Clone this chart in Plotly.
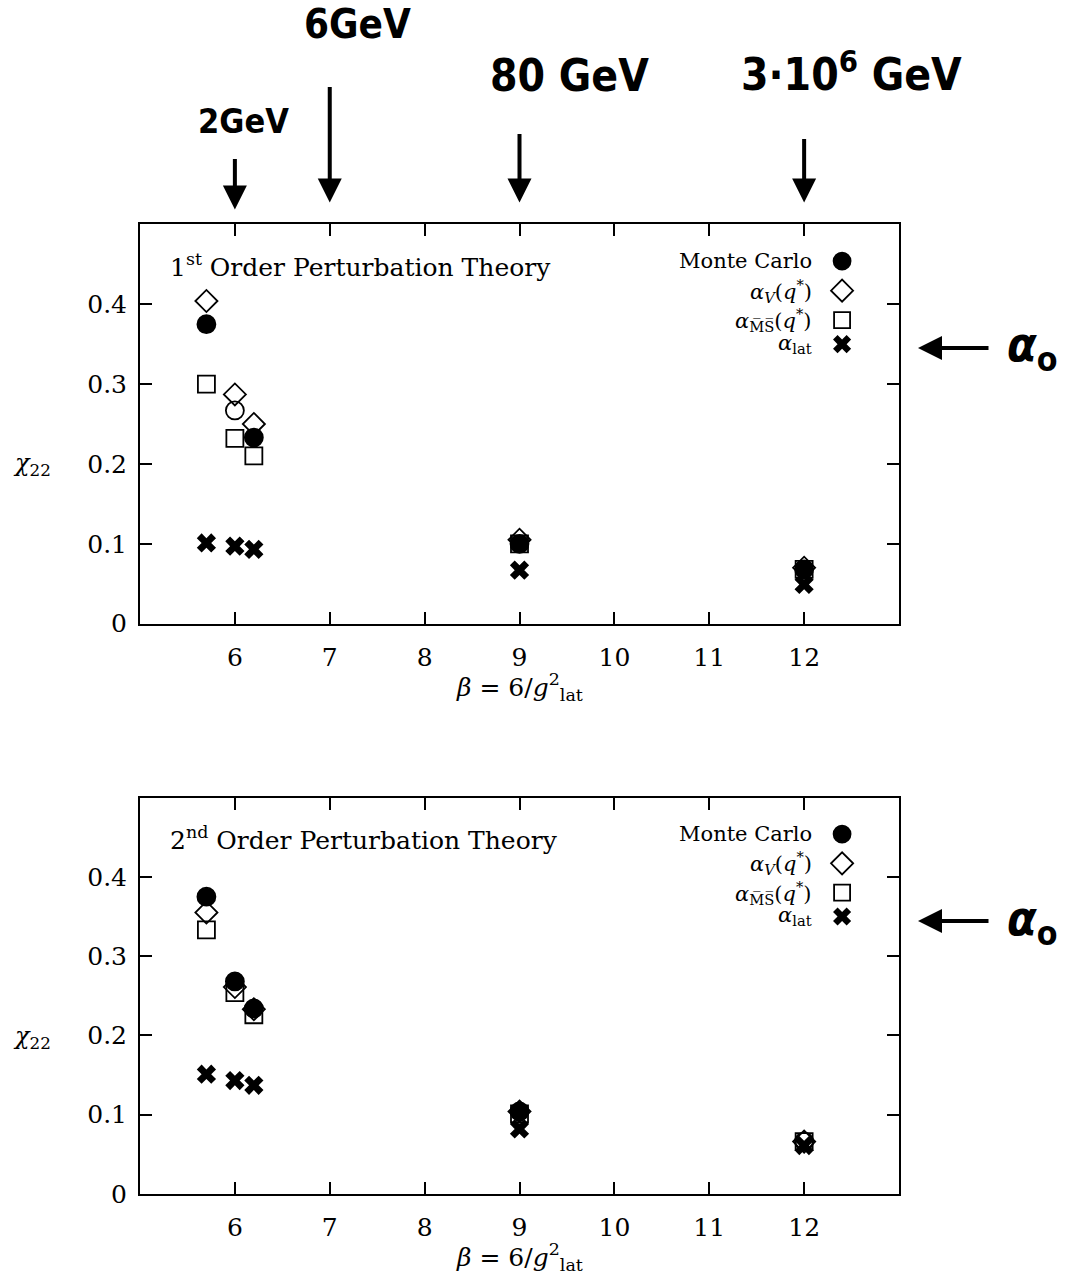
import plotly.graph_objects as go

# Lattice coupling values beta = 6/g_lat^2
beta = [5.7, 6.0, 6.2, 9.0, 12.0]

# First order perturbation theory
mc_1 = [0.375, 0.267, 0.233, 0.100, 0.068]
av_1 = [0.404, 0.287, 0.250, 0.105, 0.070]
ams_1 = [0.300, 0.232, 0.210, 0.100, 0.068]
alat_1 = [0.101, 0.097, 0.093, 0.067, 0.049]
mc_symbols_1 = ["circle", "circle-open", "circle", "circle", "circle"]

# Second order perturbation theory
mc_2 = [0.375, 0.268, 0.234, 0.104, 0.066]
av_2 = [0.355, 0.261, 0.233, 0.104, 0.066]
ams_2 = [0.333, 0.254, 0.226, 0.101, 0.066]
alat_2 = [0.151, 0.143, 0.137, 0.082, 0.061]
mc_symbols_2 = ["circle", "circle", "circle", "circle", "circle-open"]

series_labels = [
    "Monte Carlo",
    "<i>α</i><sub><i>V</i></sub>(<i>q</i><sup>*</sup>)",
    "<i>α</i><sub>M\u0305S\u0305</sub>(<i>q</i><sup>*</sup>)",
    "<i>α</i><sub>lat</sub>",
]
legend_rows = [0.454, 0.417, 0.380, 0.350]
legend_marker_x = 12.4
legend_text_x = 12.1

panel_titles = [
    "1<sup>st</sup> Order Perturbation Theory",
    "2<sup>nd</sup> Order Perturbation Theory",
]

# Energy scales marked above the upper panel
scale_beta = [6.0, 7.0, 9.0, 12.0]
scale_labels = ["2GeV", "6GeV", "80 GeV", "3·10<sup>6</sup> GeV"]

x_ticks = [6, 7, 8, 9, 10, 11, 12]
y_ticks = [0, 0.1, 0.2, 0.3, 0.4]
y_tick_text = ["0", "0.1", "0.2", "0.3", "0.4"]

W, H = 1071, 1285
SERIF = "DejaVu Serif"
HAND = "DejaVu Sans Condensed, Liberation Sans Narrow, DejaVu Sans"
BLACK = "black"

fig = go.Figure()


def add_panel(xa, ya, mc, mc_sym, av, ams, alat):
    common = dict(mode="markers", xaxis=xa, yaxis=ya, showlegend=False, hoverinfo="skip", opacity=1)
    fig.add_trace(go.Scatter(x=beta, y=av, marker=dict(symbol="diamond-open", size=17, color=BLACK, opacity=1,
                                                       line=dict(width=1.8, color=BLACK)), **common))
    fig.add_trace(go.Scatter(x=beta, y=ams, marker=dict(symbol="square-open", size=17, color=BLACK, opacity=1,
                                                        line=dict(width=1.8, color=BLACK)), **common))
    fig.add_trace(go.Scatter(x=beta, y=mc, marker=dict(symbol=mc_sym, size=18, color=BLACK, opacity=1,
                                                       line=dict(width=1.8, color=BLACK)), **common))
    fig.add_trace(go.Scatter(x=beta, y=alat, marker=dict(symbol="x", size=17, color=BLACK, opacity=1,
                                                         line=dict(width=0)), **common))
    # legend keys
    for sym, size, yy in zip(["circle", "diamond-open", "square-open", "x"], [17, 17, 16, 16], legend_rows):
        fig.add_trace(go.Scatter(
            x=[legend_marker_x], y=[yy],
            marker=dict(symbol=sym, size=size, color=BLACK, opacity=1,
                        line=dict(width=1.8 if sym != "x" else 0, color=BLACK)),
            **common))


add_panel("x", "y", mc_1, mc_symbols_1, av_1, ams_1, alat_1)
add_panel("x2", "y2", mc_2, mc_symbols_2, av_2, ams_2, alat_2)

# plot area placement in pixels
x0, x1 = 140, 899
panels_px = [(227, 631), (807, 1208)]


def py(p):
    return 1 - p / H


axis_common = dict(
    showline=True, linecolor=BLACK, linewidth=2, mirror="ticks", ticks="inside",
    ticklen=12, tickwidth=2, tickcolor=BLACK, showgrid=False, zeroline=False,
    tickfont=dict(family=SERIF, size=25, color=BLACK),
)

layout = dict(
    width=W, height=H, margin=dict(l=0, r=0, t=0, b=0),
    paper_bgcolor="white", plot_bgcolor="white", showlegend=False,
)
for i, (top, bottom) in enumerate(panels_px):
    suffix = "" if i == 0 else str(i + 1)
    layout["xaxis" + suffix] = dict(
        domain=[x0 / W, x1 / W], range=[5, 13], tickvals=x_ticks,
        anchor="y" + suffix, ticklabelstandoff=10, **axis_common)
    layout["yaxis" + suffix] = dict(
        domain=[py(bottom), py(top)], range=[0, 0.5], tickvals=y_ticks,
        ticktext=y_tick_text, anchor="x" + suffix, ticklabelstandoff=6, **axis_common)
fig.update_layout(**layout)

ann = []
for i, (top, bottom) in enumerate(panels_px):
    xr = "x" if i == 0 else "x2"
    yr = "y" if i == 0 else "y2"
    # panel title
    ann.append(dict(x=5.3, y=0.448, xref=xr, yref=yr, text=panel_titles[i], showarrow=False,
                    xanchor="left", yanchor="middle", font=dict(family=SERIF, size=25, color=BLACK)))
    # legend labels
    for lbl, yy in zip(series_labels, legend_rows):
        ann.append(dict(x=legend_text_x, y=yy, xref=xr, yref=yr, text=lbl, showarrow=False,
                        xanchor="right", yanchor="middle", font=dict(family=SERIF, size=21, color=BLACK)))
    # axis titles
    ann.append(dict(x=32 / W, y=py(top + 243), xref="paper", yref="paper",
                    text="<i>χ</i><sub>22</sub>", showarrow=False, xanchor="center", yanchor="middle",
                    font=dict(family=SERIF, size=24, color=BLACK)))
    ann.append(dict(x=9, y=py(bottom + 44), xref=xr, yref="paper",
                    text="<i>β</i> = 6/<i>g</i><sup>2</sup><sub>lat</sub>", showarrow=False,
                    xanchor="center", yanchor="top",
                    font=dict(family=SERIF, size=25, color=BLACK)))
    # alpha_0 marker on the right
    arrow_y = py(top + 125)
    ann.append(dict(x=918 / W, y=arrow_y, xref="paper", yref="paper", text="", showarrow=True,
                    ax=72, ay=0, arrowhead=2, arrowsize=1.2, arrowwidth=4, arrowcolor=BLACK))
    ann.append(dict(x=1032 / W, y=arrow_y, xref="paper", yref="paper",
                    text="<b><i>α</i></b><sub><b>o</b></sub>", showarrow=False,
                    xanchor="center", yanchor="middle",
                    font=dict(family=HAND, size=48, color=BLACK)))

# energy scale arrows and labels above the upper panel
arrow_tail_px = [160, 88, 135, 140]
arrow_tip_px = [212, 205, 205, 205]
label_px = [(243, 122, 34), (357, 24, 40), (569, 76, 44), (851, 72, 44)]
for b, lbl, tail, tip, (lx, ly, fs) in zip(scale_beta, scale_labels, arrow_tail_px, arrow_tip_px, label_px):
    ann.append(dict(x=b, y=py(tip), xref="x", yref="paper", text="", showarrow=True,
                    ax=0, ay=-(tip - tail), arrowhead=2, arrowsize=1.2, arrowwidth=4,
                    arrowcolor=BLACK))
    ann.append(dict(x=lx / W, y=py(ly), xref="paper", yref="paper", text="<b>" + lbl + "</b>",
                    showarrow=False, xanchor="center", yanchor="middle",
                    font=dict(family=HAND, size=fs, color=BLACK)))

fig.update_layout(annotations=ann)
fig.write_html("out.html")
